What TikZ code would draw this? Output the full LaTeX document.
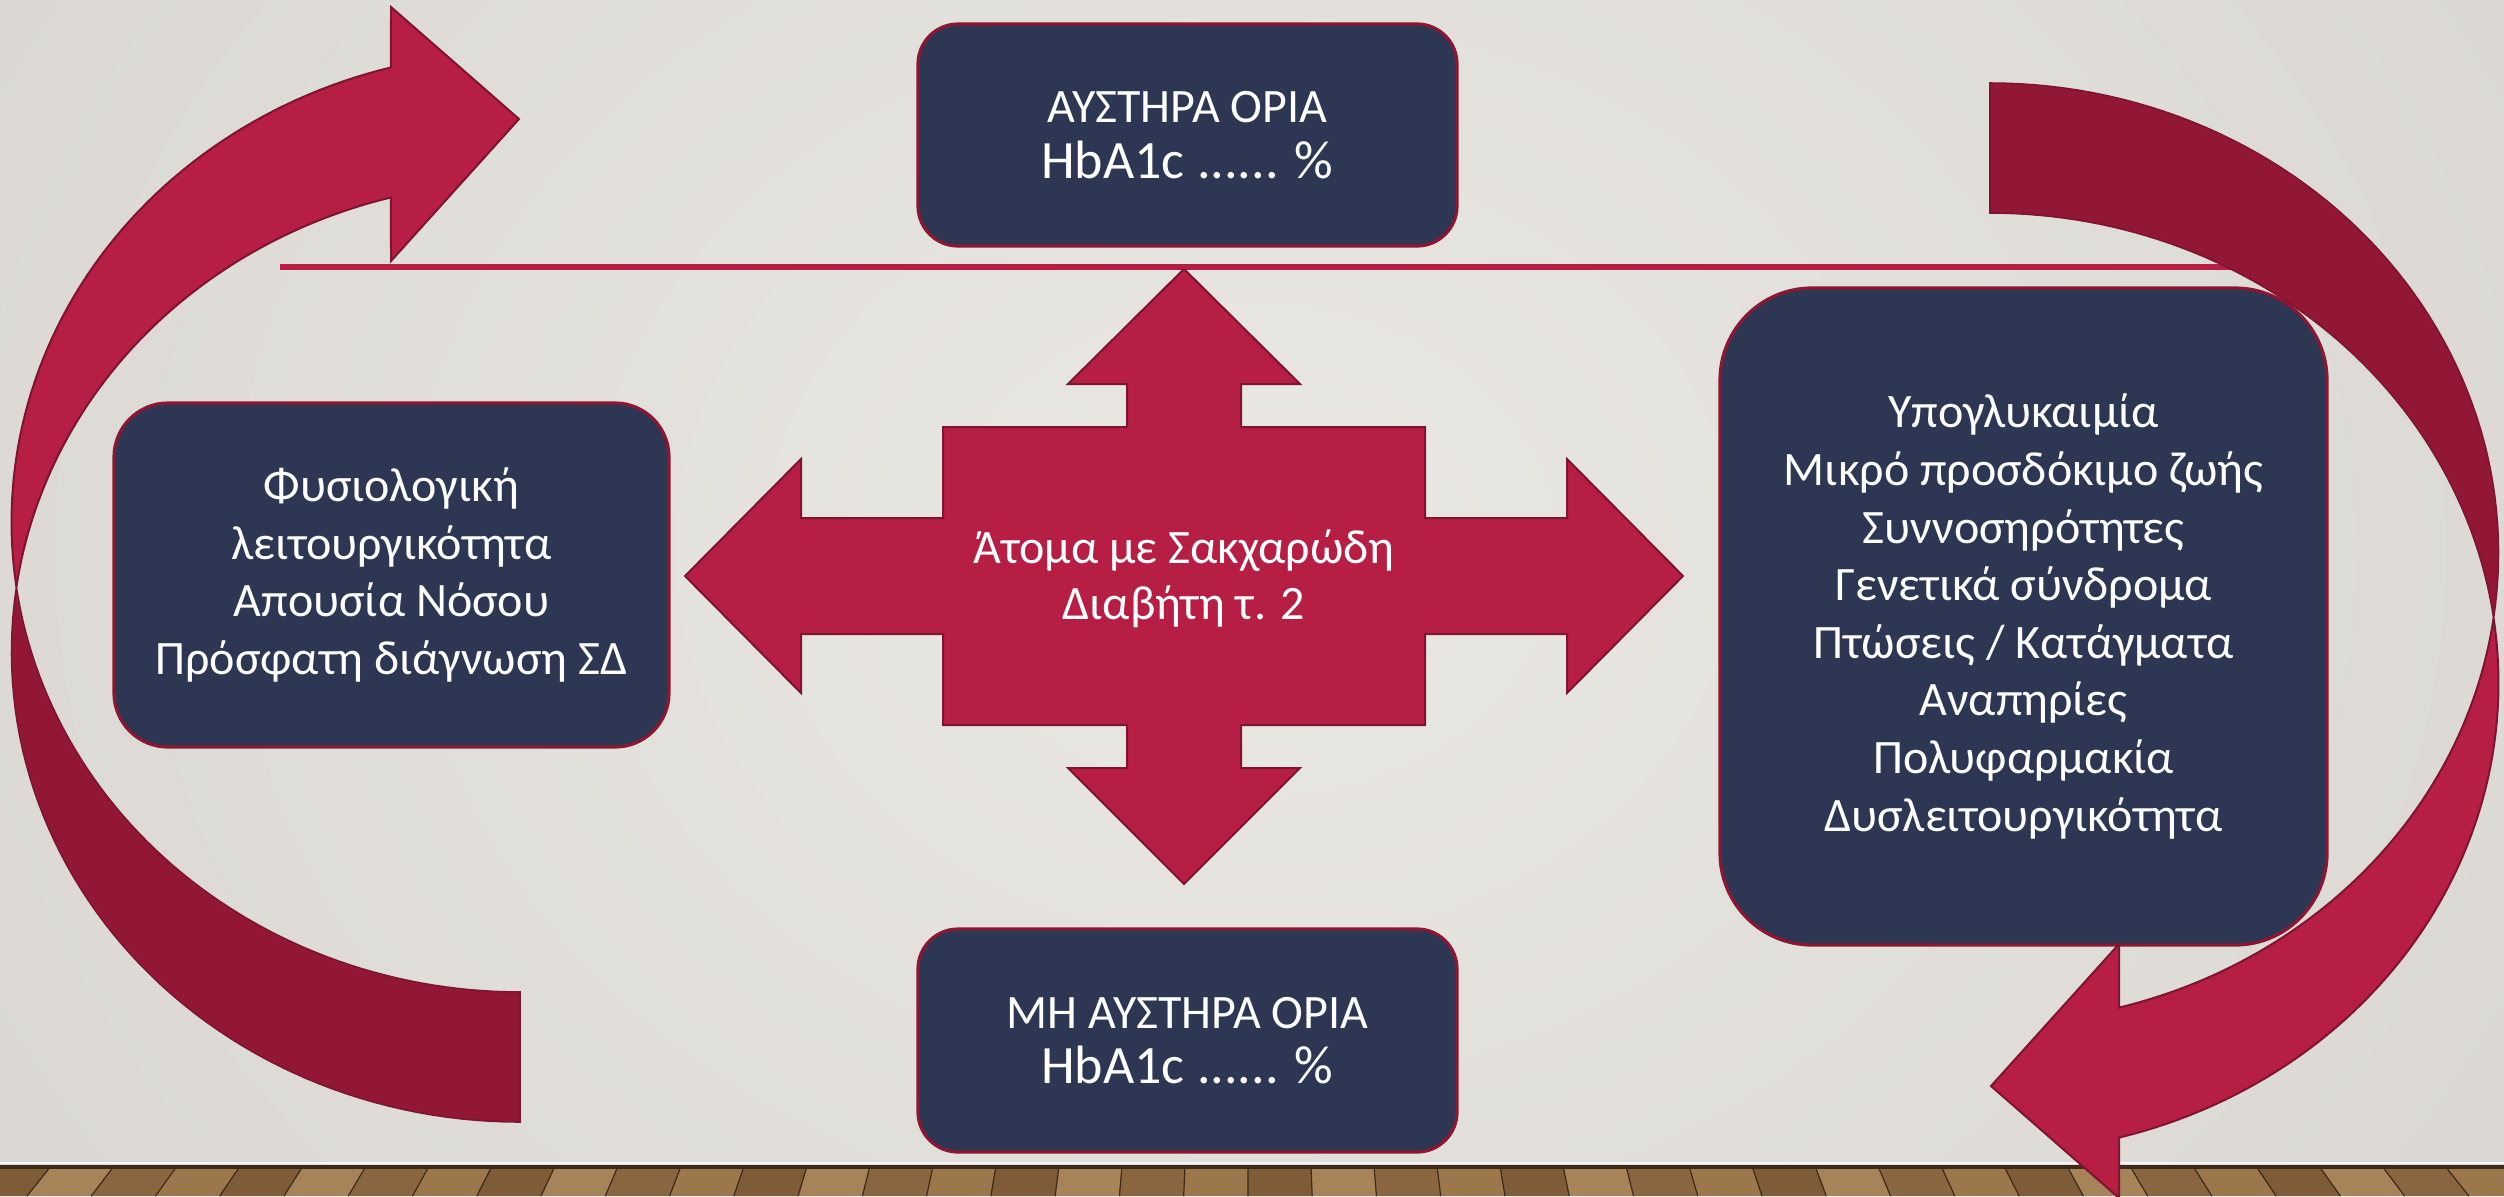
\documentclass[tikz,border=0pt]{standalone}
\usepackage{fontspec}
\setmainfont{Carlito}
\definecolor{wallin}{HTML}{EAE8E4}
\definecolor{wallout}{HTML}{C9C5BF}
\definecolor{crim}{HTML}{B61E43}
\definecolor{crimdark}{HTML}{911735}
\definecolor{crimedge}{HTML}{7F1430}
\definecolor{navy}{HTML}{2D3754}
\definecolor{boxedge}{HTML}{8C1633}
\definecolor{woodA}{HTML}{9C774C}
\definecolor{woodB}{HTML}{8A6640}
\definecolor{woodC}{HTML}{A68358}
\definecolor{woodD}{HTML}{7F5C38}
\definecolor{woodline}{HTML}{3E2A18}
\pgfdeclareradialshading{wallshade}{\pgfpoint{0bp}{0bp}}{color(0bp)=(wallin); color(50bp)=(wallout)}
\tikzset{
  infobox/.style={draw=boxedge, line width=1.6pt, fill=navy, text=white, align=center,
    font=\fontsize{24}{28.8}\selectfont, inner sep=0pt},
  crossarrow/.style={fill=crim, draw=crimedge, line width=1pt, line join=miter},
  frontband/.style={fill=crim, draw=crimedge, line width=1pt, line join=miter},
  backband/.style={fill=crimdark, draw=crimedge, line width=0.8pt},
  redrule/.style={draw=crim, line width=2.9pt},
  coretext/.style={text=white, align=center, font=\fontsize{24}{28}\selectfont},
}
\begin{document}
\begin{tikzpicture}[x=0.5pt,y=-0.5pt]
\useasboundingbox (0,0) rectangle (2504,1196);
\clip (0,0) rectangle (2504,1196);
% wall
\begin{scope}
\clip (0,0) rectangle (2504,1166);
\shade[shading=wallshade] (-300,-700) rectangle (2800,1800);
\end{scope}
% floor (perspective planks)
\fill[woodB] (0,1165) rectangle (2504,1196);
\foreach \i in {0,...,40}{
  \pgfmathsetmacro{\xt}{\i*63-12}
  \pgfmathsetmacro{\xb}{\xt+(\xt-1252)*0.02}
  \pgfmathsetmacro{\xtn}{\xt+63}
  \pgfmathsetmacro{\xbn}{\xtn+(\xtn-1252)*0.02}
  \pgfmathtruncatemacro{\k}{mod(\i*7+3,4)}
  \ifcase\k \def\pc{woodA}\or \def\pc{woodB}\or \def\pc{woodC}\or \def\pc{woodD}\fi
  \fill[\pc] (\xb,1196) -- (\xt,1166) -- (\xtn,1166) -- (\xbn,1196) -- cycle;
  \draw[woodline, line width=0.6pt] (\xb,1196) -- (\xt,1166);
}
\fill[woodline] (0,1165) rectangle (2504,1169);
\draw[white!60!wallin, line width=1pt] (0,1163) -- (2504,1163);
% red rule
\coordinate (ruleL) at (280,267);
\coordinate (ruleR) at (2300,267);
\draw[redrule] (ruleL) -- (ruleR);
% boxes
\node[infobox, minimum width=269.5pt, minimum height=111pt, rounded corners=20pt] (strict) at (1187.5,135)
  {{\fontsize{24}{28}\selectfont ΑΥΣΤΗΡΑ ΟΡΙΑ}\\[-1pt]{\fontsize{27}{30}\selectfont HbA1c ...... \%}};
\node[infobox, minimum width=269.5pt, minimum height=111.5pt, rounded corners=20pt] (loose) at (1187.5,1040.5)
  {{\fontsize{24}{28}\selectfont ΜΗ ΑΥΣΤΗΡΑ ΟΡΙΑ}\\[-1pt]{\fontsize{27}{30}\selectfont HbA1c ...... \%}};
\node[infobox, minimum width=277.5pt, minimum height=172pt, rounded corners=27pt] (healthy) at (391.5,575)
  {Φυσιολογική\\λειτουργικότητα\\Απουσία Νόσου\\Πρόσφατη διάγνωση ΣΔ};
\node[infobox, minimum width=303.5pt, minimum height=328.5pt, rounded corners=46pt] (frail) at (2023.5,616.5)
  {Υπογλυκαιμία\\Μικρό προσδόκιμο ζωής\\Συννοσηρότητες\\Γενετικά σύνδρομα\\Πτώσεις / Κατάγματα\\Αναπηρίες\\Πολυφαρμακία\\Δυσλειτουργικότητα};
% central four-way arrow
\filldraw[crossarrow] (1184,269) -- (1300,384) -- (1241,384) -- (1241,427) -- (1425,427) -- (1425,518)
  -- (1567,518) -- (1567,459) -- (1683,576) -- (1567,693) -- (1567,634) -- (1425,634) -- (1425,725)
  -- (1241,725) -- (1241,768) -- (1300,768) -- (1184,884) -- (1068,768) -- (1127,768) -- (1127,725)
  -- (943,725) -- (943,634) -- (801,634) -- (801,693) -- (685,576) -- (801,459) -- (801,518)
  -- (943,518) -- (943,427) -- (1127,427) -- (1127,384) -- (1068,384) -- cycle;
\node[coretext] (core) at (1184,579) {Άτομα με Σακχαρώδη\\Διαβήτη τ. 2};
% curved arrows (left one, then the same rotated for the right one)
\foreach \rot in {0,180}{
\begin{scope}[rotate around={\rot:(1255,602.5)}]
  \filldraw[backband] plot[domain=90:187.95, samples=60, variable=\t] ({520+508.5*cos(\t)},{652+470*sin(\t)})
    -- plot[domain=172.05:90, samples=60, variable=\t] ({520+508.5*cos(\t)},{522+470*sin(\t)}) -- cycle;
  \filldraw[frontband] plot[domain=172.05:255.3, samples=60, variable=\t] ({520+508.5*cos(\t)},{522+470*sin(\t)})
    -- (391,7) -- (519,119) -- (391,261)
    -- plot[domain=255.3:187.95, samples=60, variable=\t] ({520+508.5*cos(\t)},{652+470*sin(\t)}) -- cycle;
\end{scope}
}
\end{tikzpicture}
\end{document}
